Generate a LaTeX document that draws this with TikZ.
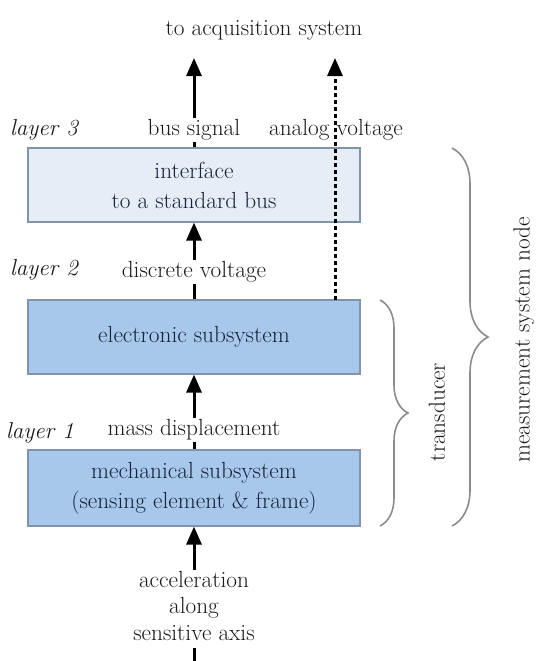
\documentclass[tikz,border=0pt]{standalone}
\usetikzlibrary{arrows.meta,decorations.pathreplacing}
\definecolor{txt}{HTML}{1A1A1A}
\definecolor{boxtxt}{HTML}{16213A}
\definecolor{ifill}{HTML}{E6EDF7}
\definecolor{bfill}{HTML}{A8C8EB}
\definecolor{bline}{HTML}{8094AC}
\definecolor{brc}{HTML}{8C8C8C}
\tikzset{
  lbl/.style={text=txt, font=\fontsize{23.3}{26}\selectfont, inner sep=1pt, align=center},
  layerlbl/.style={text=txt, font=\fontsize{23}{26}\selectfont\itshape, inner sep=0pt, anchor=west},
  blockbox/.style={draw=bline, line width=1.2pt, fill=bfill, text=boxtxt, inner sep=0pt,
    font=\fontsize{23.3}{30}\selectfont, align=center, minimum width=332pt, minimum height=74pt},
  flow/.style={line width=3pt, -{Triangle[length=18pt,width=15pt]}},
  stub/.style={line width=3pt},
  analog/.style={line width=3pt, dash pattern=on 4pt off 3pt, -{Triangle[length=18pt,width=15pt]}},
  bracebar/.style={draw=brc, line width=1.6pt, decorate},
}
\begin{document}
\begin{tikzpicture}[x=1pt,y=-1pt]
  \useasboundingbox (0,0) rectangle (539,661);
  \fill[white] (0,0) rectangle (539,661);

  % the three layers
  \node[blockbox, fill=ifill] (iface) at (194,185) {interface\\to a standard bus};
  \node[blockbox] (elec) at (194,337) {electronic subsystem};
  \node[blockbox, minimum height=76pt] (mech) at (194,488) {mechanical subsystem\\(sensing element \& frame)};

  % signal labels
  \node[lbl] (top) at (264,30) {to acquisition system};
  \node[lbl] (bus) at (194,130) {bus signal};
  \node[lbl] (analogv) at (336,130) {analog voltage};
  \node[lbl] (disc) at (194,272) {discrete voltage};
  \node[lbl] (mass) at (194,430) {mass displacement};
  \node[lbl, font=\fontsize{23.3}{26.5}\selectfont] (acc) at (194,606) {acceleration\\along\\sensitive axis};

  \node[layerlbl] (l3) at (10,130) {layer 3};
  \node[layerlbl] (l2) at (10,270) {layer 2};
  \node[layerlbl] (l1) at (6,433) {layer 1};

  \coordinate (busout) at (194,58);
  \coordinate (anout) at (335,58);
  \coordinate (anin) at (335,300);
  \coordinate (bot) at (194,661);

  % signal path
  \draw[stub] ([yshift=-6pt]acc.south) -- (bot);
  \draw[flow] (acc.north) -- (mech.south);
  \draw[stub] (mech.north) -- (mass.south);
  \draw[flow] (mass.north) -- (elec.south);
  \draw[stub] (elec.north) -- (disc.south);
  \draw[flow] (disc.north) -- (iface.south);
  \draw[stub] (iface.north) -- (bus.south);
  \draw[flow] (bus.north) -- (busout);
  \draw[analog] (anin) -- (anout);

  % grouping braces
  \coordinate (tr1) at (380,300);
  \coordinate (tr2) at (380,526);
  \coordinate (ms1) at (452,148);
  \coordinate (ms2) at (452,526);
  \draw[bracebar, decoration={brace, amplitude=28pt}] (tr1) -- (tr2);
  \draw[bracebar, decoration={brace, amplitude=36pt}] (ms1) -- (ms2);
  \node[lbl, rotate=90] (trd) at (437,412) {transducer};
  \node[lbl, rotate=90] (msn) at (524,340) {measurement system node};
\end{tikzpicture}
\end{document}
